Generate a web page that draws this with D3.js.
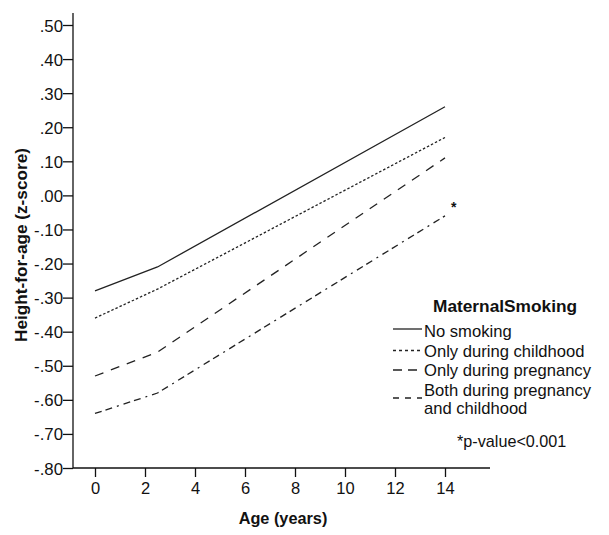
<!DOCTYPE html>
<html><head><meta charset="utf-8">
<script src="https://cdn.jsdelivr.net/npm/d3@7"></script>
<style>
html,body{margin:0;padding:0;background:#fff;}
svg{display:block;font-family:"Liberation Sans",Arial,sans-serif;}
</style></head>
<body><svg id="chart" width="609" height="535"></svg>
<script>
const ages = [0, 2.5, 14];
const seriesNames = ["No smoking", "Only during childhood", "Only during pregnancy", "Both during pregnancy and childhood"];
const noSmoking = [-0.28, -0.21, 0.26];
const onlyChildhood = [-0.36, -0.275, 0.17];
const onlyPregnancy = [-0.53, -0.46, 0.11];
const bothPregChild = [-0.64, -0.58, -0.06];
const xTicks = [0, 2, 4, 6, 8, 10, 12, 14];
const yTicks = [0.5, 0.4, 0.3, 0.2, 0.1, 0, -0.1, -0.2, -0.3, -0.4, -0.5, -0.6, -0.7, -0.8];
const yTickLabels = [".50", ".40", ".30", ".20", ".10", ".00", "-.10", "-.20", "-.30", "-.40", "-.50", "-.60", "-.70", "-.80"];

const svg = d3.select("#chart");
const x = d3.scaleLinear().domain([0, 14]).range([95, 445]);
const y = d3.scaleLinear().domain([-0.8, 0.5]).range([468, 25]);
const axisX0 = 73, axisY0 = 468;
const ink = "#111";

// axis lines
svg.append("line").attr("x1", axisX0).attr("x2", axisX0)
  .attr("y1", axisY0).attr("y2", y(0.535)).attr("stroke", ink).attr("stroke-width", 1.3);
svg.append("line").attr("x1", axisX0).attr("x2", x(15.8))
  .attr("y1", axisY0).attr("y2", axisY0).attr("stroke", ink).attr("stroke-width", 1.3);

// y axis
const yAxis = svg.append("g").attr("transform", `translate(${axisX0},0)`)
  .call(d3.axisLeft(y).tickValues(yTicks).tickSize(10).tickSizeOuter(0)
    .tickFormat((d, i) => yTickLabels[i]));
yAxis.select(".domain").remove();
yAxis.selectAll(".tick line").attr("stroke", ink).attr("stroke-width", 1.3);
yAxis.selectAll(".tick text").attr("x", -10).attr("dy", "0.36em")
  .attr("font-size", 16.8).attr("fill", ink).attr("font-family", "Liberation Sans, Arial, sans-serif");

// x axis
const xAxis = svg.append("g").attr("transform", `translate(0,${axisY0})`)
  .call(d3.axisBottom(x).tickValues(xTicks).tickSize(9).tickSizeOuter(0).tickFormat(d3.format("d")));
xAxis.select(".domain").remove();
xAxis.selectAll(".tick line").attr("stroke", ink).attr("stroke-width", 1.3);
xAxis.selectAll(".tick text").attr("y", 14).attr("dy", "0.71em")
  .attr("font-size", 16.5).attr("fill", ink).attr("font-family", "Liberation Sans, Arial, sans-serif");

// axis titles
svg.append("text").attr("x", 283).attr("y", 524).attr("text-anchor", "middle")
  .attr("font-size", 16.3).attr("font-weight", "bold").attr("fill", ink).text("Age (years)");
svg.append("text").attr("transform", "translate(27,245) rotate(-90)").attr("text-anchor", "middle")
  .attr("font-size", 17.2).attr("font-weight", "bold").attr("fill", ink).text("Height-for-age (z-score)");

// lines
const dashes = ["", "2.5,2", "9,8", "7,4,7,5,2,5"];
const allSeries = [noSmoking, onlyChildhood, onlyPregnancy, bothPregChild];
const line = d3.line().x((d, i) => x(ages[i])).y(d => y(d));
allSeries.forEach((s, k) => {
  svg.append("path").datum(s).attr("d", line).attr("fill", "none")
    .attr("stroke", "#222").attr("stroke-width", 1.3)
    .attr("stroke-dasharray", dashes[k] || null);
});

// significance asterisk
svg.append("text").attr("x", x(14.35)).attr("y", y(-0.05)).attr("text-anchor", "middle")
  .attr("font-size", 14).attr("font-weight", "bold").attr("fill", ink).text("*");

// legend
const lg = svg.append("g");
lg.append("text").attr("x", 433).attr("y", 312).attr("font-size", 17.3).attr("font-weight", "bold")
  .attr("fill", ink).text("MaternalSmoking");
const legDash = ["", "3,3", "9,6", "6,6"];
const legY = [329, 350.5, 370, 398];
const legBase = [[336.5], [356.5], [376], [395.5], [414]];
const labelLines = ["No smoking", "Only during childhood", "Only during pregnancy", "Both during pregnancy", "and childhood"];
seriesNames.forEach((nm, k) => {
  lg.append("line").attr("x1", 393).attr("x2", 422).attr("y1", legY[k]).attr("y2", legY[k])
    .attr("stroke", "#222").attr("stroke-width", 1.3).attr("stroke-dasharray", legDash[k] || null);
});
labelLines.forEach((l, j) => {
  lg.append("text").attr("x", 424).attr("y", legBase[j][0]).attr("font-size", 16.6)
    .attr("fill", ink).text(l);
});
svg.append("text").attr("x", 457).attr("y", 447).attr("font-size", 16.2).attr("fill", ink).text("*p-value<0.001");
</script></body></html>
